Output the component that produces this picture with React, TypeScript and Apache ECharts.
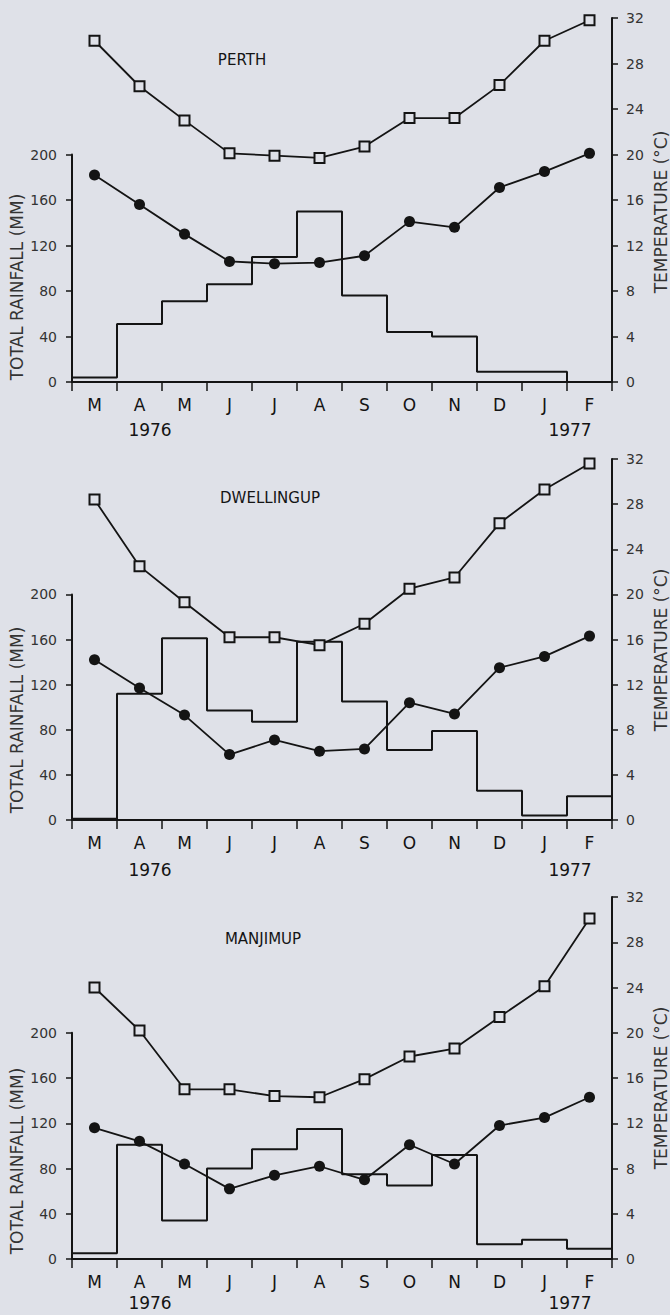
import React, { useEffect, useRef } from "react";
import * as echarts from "echarts";

// ---------- data ----------
const months = ["M", "A", "M", "J", "J", "A", "S", "O", "N", "D", "J", "F"];
const yearLabels = ["1976", "1977"];
const stationNames = ["PERTH", "DWELLINGUP", "MANJIMUP"];

// total monthly rainfall (mm)
const perthRain = [4, 51, 71, 86, 110, 150, 76, 44, 40, 9, 9, 0];
const dwellingupRain = [1, 112, 161, 97, 87, 158, 105, 62, 79, 26, 4, 21];
const manjimupRain = [5, 101, 34, 80, 97, 115, 75, 65, 92, 13, 17, 9];

// mean maximum temperature (°C) – open squares
const perthMax = [30.0, 26.0, 23.0, 20.1, 19.9, 19.7, 20.7, 23.2, 23.2, 26.1, 30.0, 31.8];
const dwellingupMax = [28.4, 22.5, 19.3, 16.2, 16.2, 15.5, 17.4, 20.5, 21.5, 26.3, 29.3, 31.6];
const manjimupMax = [24.0, 20.2, 15.0, 15.0, 14.4, 14.3, 15.9, 17.9, 18.6, 21.4, 24.1, 30.1];

// mean minimum temperature (°C) – filled circles
const perthMin = [18.2, 15.6, 13.0, 10.6, 10.4, 10.5, 11.1, 14.1, 13.6, 17.1, 18.5, 20.1];
const dwellingupMin = [14.2, 11.7, 9.3, 5.8, 7.1, 6.1, 6.3, 10.4, 9.4, 13.5, 14.5, 16.3];
const manjimupMin = [11.6, 10.4, 8.4, 6.2, 7.4, 8.2, 7.0, 10.1, 8.4, 11.8, 12.5, 14.3];

const rainAxis = { min: 0, max: 200, interval: 40 };
const tempAxis = { min: 0, max: 32, interval: 4 };

const rainSets = [perthRain, dwellingupRain, manjimupRain];
const maxSets = [perthMax, dwellingupMax, manjimupMax];
const minSets = [perthMin, dwellingupMin, manjimupMin];

// ---------- layout ----------
const BG = "#dfe1e8";
const INK = "#141414";
const FONT = "'DejaVu Sans', sans-serif";

const panels = [
  { top: 18, zero: 382, titleX: 242, titleY: 60, yearY: 430, leftTitleY: 287, rightTitleY: 212 },
  { top: 459, zero: 820, titleX: 270, titleY: 498, yearY: 870, leftTitleY: 720, rightTitleY: 650 },
  { top: 897, zero: 1259, titleX: 263, titleY: 939, yearY: 1303, leftTitleY: 1161, rightTitleY: 1088 },
];
const GRID_LEFT = 72;
const GRID_RIGHT = 58;

function stepPoints(values: number[]) {
  const pts: number[][] = [];
  values.forEach((v, i) => {
    pts.push([i, v]);
    pts.push([i + 1, v]);
  });
  return pts;
}

export default function App() {
  const ref = useRef<HTMLDivElement>(null);

  useEffect(() => {
    if (!ref.current) return;
    const chart = echarts.init(ref.current, undefined, { renderer: "svg" });

    const grid: any[] = [];
    const xAxis: any[] = [];
    const yAxis: any[] = [];
    const series: any[] = [];
    const graphic: any[] = [];

    panels.forEach((p, pi) => {
      const H = p.zero - p.top;
      const k = H / (tempAxis.max * 10);
      const rainH = rainAxis.max * k;

      grid.push({ left: GRID_LEFT, right: GRID_RIGHT, top: p.zero - rainH, height: rainH });
      grid.push({ left: GRID_LEFT, right: GRID_RIGHT, top: p.top, height: H });

      const gR = pi * 2;
      const gT = pi * 2 + 1;

      xAxis.push({
        type: "category",
        gridIndex: gR,
        data: months,
        boundaryGap: true,
        position: "bottom",
        axisLine: { show: true, lineStyle: { color: INK, width: 2 } },
        axisTick: { show: true, interval: 0, length: 9, lineStyle: { color: INK, width: 1.5 } },
        axisLabel: { interval: 0, margin: 14, fontSize: 17, color: INK, fontFamily: FONT },
        splitLine: { show: false },
      });
      xAxis.push({ type: "value", gridIndex: gR, min: 0, max: months.length, show: false });
      xAxis.push({ type: "category", gridIndex: gT, data: months, boundaryGap: true, show: false });

      yAxis.push({
        type: "value",
        gridIndex: gR,
        position: "left",
        min: rainAxis.min,
        max: rainAxis.max,
        interval: rainAxis.interval,
        axisLine: { show: true, lineStyle: { color: INK, width: 2 } },
        axisTick: { show: true, length: 6, lineStyle: { color: INK, width: 1.5 } },
        axisLabel: { margin: 15, fontSize: 14, color: "#333", fontFamily: FONT },
        splitLine: { show: false },
      });
      yAxis.push({
        type: "value",
        gridIndex: gT,
        position: "right",
        min: tempAxis.min,
        max: tempAxis.max,
        interval: tempAxis.interval,
        axisLine: { show: true, lineStyle: { color: INK, width: 2 } },
        axisTick: { show: true, length: 6, lineStyle: { color: INK, width: 1.5 } },
        axisLabel: { margin: 14, fontSize: 14, color: "#333", fontFamily: FONT },
        splitLine: { show: false },
      });

      series.push({
        type: "line",
        name: stationNames[pi] + " rainfall",
        xAxisIndex: pi * 3 + 1,
        yAxisIndex: gR,
        data: stepPoints(rainSets[pi]),
        symbol: "none",
        lineStyle: { color: INK, width: 2 },
        z: 2,
      });
      series.push({
        type: "line",
        name: stationNames[pi] + " max",
        xAxisIndex: pi * 3 + 2,
        yAxisIndex: gT,
        data: maxSets[pi],
        symbol: "rect",
        symbolSize: 10,
        itemStyle: { color: BG, borderColor: INK, borderWidth: 2 },
        lineStyle: { color: INK, width: 1.8 },
        z: 3,
      });
      series.push({
        type: "line",
        name: stationNames[pi] + " min",
        xAxisIndex: pi * 3 + 2,
        yAxisIndex: gT,
        data: minSets[pi],
        symbol: "circle",
        symbolSize: 11,
        itemStyle: { color: INK, borderColor: INK, borderWidth: 0 },
        lineStyle: { color: INK, width: 1.8 },
        z: 3,
      });

      graphic.push({
        type: "text",
        x: p.titleX,
        y: p.titleY,
        style: { text: stationNames[pi], fill: INK, font: `15px ${FONT}`, align: "center", verticalAlign: "middle" },
      });
      graphic.push({
        type: "text",
        x: 150,
        y: p.yearY,
        style: { text: yearLabels[0], fill: INK, font: `17px ${FONT}`, align: "center", verticalAlign: "middle" },
      });
      graphic.push({
        type: "text",
        x: 570,
        y: p.yearY,
        style: { text: yearLabels[1], fill: INK, font: `17px ${FONT}`, align: "center", verticalAlign: "middle" },
      });
      graphic.push({
        type: "text",
        x: 17,
        y: p.leftTitleY,
        rotation: Math.PI / 2,
        style: { text: "TOTAL RAINFALL (MM)", fill: "#333", font: `17px ${FONT}`, align: "center", verticalAlign: "middle" },
      });
      graphic.push({
        type: "text",
        x: 661,
        y: p.rightTitleY,
        rotation: Math.PI / 2,
        style: { text: "TEMPERATURE (°C)", fill: "#333", font: `17px ${FONT}`, align: "center", verticalAlign: "middle" },
      });
    });

    chart.setOption({
      animation: false,
      backgroundColor: BG,
      grid,
      xAxis,
      yAxis,
      series,
      graphic,
    });

    return () => chart.dispose();
  }, []);

  return (
    <div
      ref={ref}
      style={{ position: "absolute", left: 0, top: 0, width: 670, height: 1315, background: BG }}
    />
  );
}
